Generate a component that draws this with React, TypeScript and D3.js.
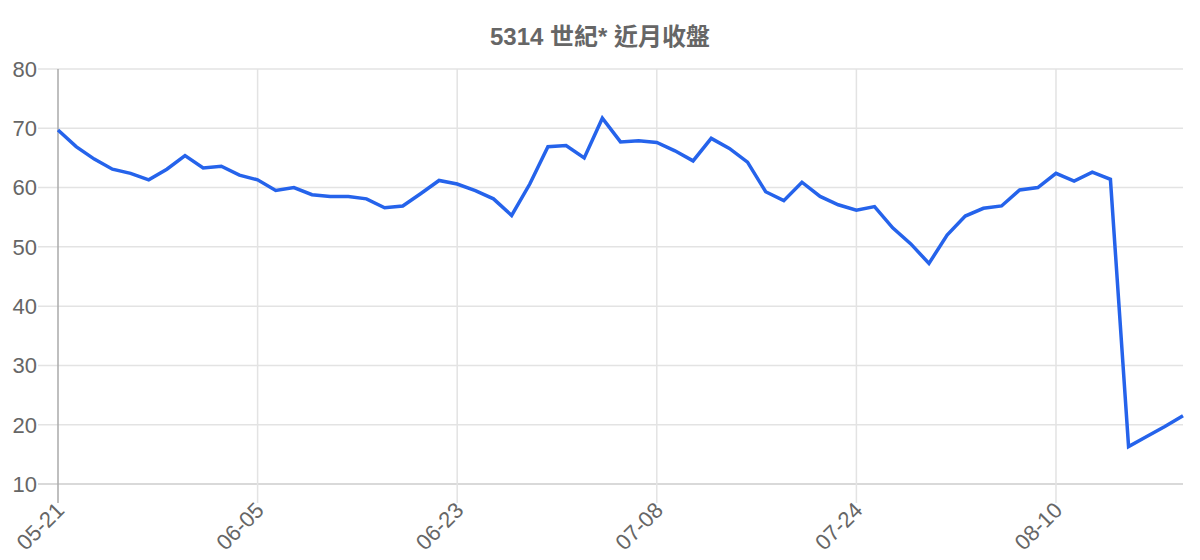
import * as d3 from "d3";
import { useEffect, useRef } from "react";

const title = "5314 世紀* 近月收盤";

const dates = [
  "05-21", "05-22", "05-23", "05-26", "05-27", "05-28", "05-29", "05-30", "06-02", "06-03", "06-04",
  "06-05", "06-06", "06-09", "06-10", "06-11", "06-12", "06-13", "06-16", "06-17", "06-18", "06-19",
  "06-23", "06-24", "06-25", "06-26", "06-27", "06-30", "07-01", "07-02", "07-03", "07-04", "07-07",
  "07-08", "07-09", "07-10", "07-11", "07-14", "07-15", "07-16", "07-17", "07-18", "07-21", "07-22",
  "07-24", "07-25", "07-28", "07-29", "07-30", "07-31", "08-01", "08-04", "08-05", "08-06", "08-07",
  "08-10", "08-11", "08-12", "08-13", "08-14", "08-15", "08-18", "08-19",
];

const closes = [
  69.7, 66.9, 64.8, 63.1, 62.4, 61.3, 63.1, 65.4, 63.3, 63.6, 62.1,
  61.3, 59.5, 60.0, 58.8, 58.5, 58.5, 58.1, 56.6, 56.9, 59.0, 61.2,
  60.6, 59.5, 58.1, 55.3, 60.6, 66.9, 67.1, 65.0, 71.7, 67.7, 67.9,
  67.6, 66.2, 64.5, 68.3, 66.6, 64.3, 59.3, 57.8, 60.9, 58.5, 57.1,
  56.2, 56.8, 53.2, 50.5, 47.2, 52.0, 55.2, 56.5, 56.9, 59.6, 60.0,
  62.4, 61.1, 62.6, 61.4, 16.3, 18.0, 19.7, 21.5,
];

const yTicks = [10, 20, 30, 40, 50, 60, 70, 80];
const labelEvery = 11;

const W = 1200;
const H = 560;
const font = "'Liberation Sans', Arial, 'Noto Sans CJK TC', sans-serif";

export default function App() {
  const ref = useRef<SVGSVGElement>(null);

  useEffect(() => {
    const svg = d3.select(ref.current);
    svg.selectAll("*").remove();

    const x = d3
      .scalePoint<number>()
      .domain(dates.map((_, i) => i))
      .range([58, 1183]);
    const y = d3.scaleLinear().domain([10, 80]).range([484, 69]);

    const xTicks = dates.map((_, i) => i).filter((i) => i % labelEvery === 0);

    // horizontal grid
    svg
      .append("g")
      .selectAll("line")
      .data(yTicks)
      .join("line")
      .attr("x1", 38)
      .attr("x2", 1183)
      .attr("y1", (d) => y(d))
      .attr("y2", (d) => y(d))
      .attr("stroke", (d) => (d === 10 ? "#cccccc" : "#e3e3e3"))
      .attr("stroke-width", 1.5);

    // vertical grid
    svg
      .append("g")
      .selectAll("line")
      .data(xTicks)
      .join("line")
      .attr("x1", (d) => x(d)!)
      .attr("x2", (d) => x(d)!)
      .attr("y1", 69)
      .attr("y2", 503)
      .attr("stroke", (d) => (d === 0 ? "#aaaaaa" : "#e3e3e3"))
      .attr("stroke-width", 1.5);

    // y labels
    svg
      .append("g")
      .selectAll("text")
      .data(yTicks)
      .join("text")
      .attr("x", 37)
      .attr("y", (d) => y(d))
      .attr("dy", "0.36em")
      .attr("text-anchor", "end")
      .attr("font-family", font)
      .attr("font-size", 22)
      .attr("fill", "#666")
      .text((d) => d);

    // x labels, rotated
    svg
      .append("g")
      .selectAll("text")
      .data(xTicks)
      .join("text")
      .attr("transform", (d) => `translate(${x(d)! + 2},${506}) rotate(-45)`)
      .attr("dy", "0.36em")
      .attr("text-anchor", "end")
      .attr("font-family", font)
      .attr("font-size", 22)
      .attr("fill", "#666")
      .text((d) => dates[d]);

    // line
    const line = d3
      .line<number>()
      .x((_, i) => x(i)!)
      .y((d) => y(d));
    svg
      .append("path")
      .datum(closes)
      .attr("d", line)
      .attr("fill", "none")
      .attr("stroke", "#2563eb")
      .attr("stroke-width", 3.5)
      .attr("stroke-linejoin", "miter");

    // title
    svg
      .append("text")
      .attr("x", 600)
      .attr("y", 45)
      .attr("text-anchor", "middle")
      .attr("font-family", font)
      .attr("font-size", 24)
      .attr("font-weight", "bold")
      .attr("fill", "#666")
      .text(title);
  }, []);

  return (
    <svg
      ref={ref}
      width={W}
      height={H}
      viewBox={`0 0 ${W} ${H}`}
      style={{ position: "absolute", left: 0, top: 0, background: "#fff" }}
    />
  );
}
